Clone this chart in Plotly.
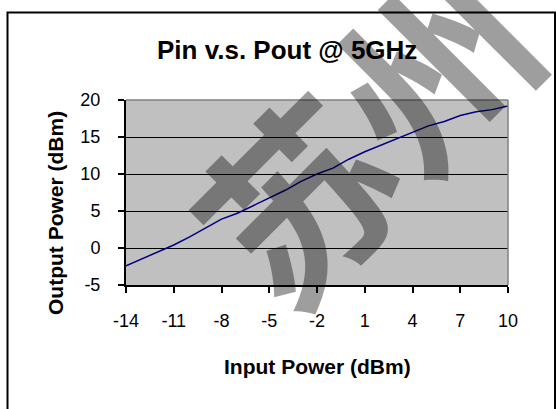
import plotly.graph_objects as go

# ---- data ----
pin_dbm = [-14, -13, -12, -11, -10, -9, -8, -7, -6, -5, -4, -3, -2, -1,
           0, 1, 2, 3, 4, 5, 6, 7, 8, 9, 10]
pout_dbm = [-2.4, -1.5, -0.5, 0.4, 1.5, 2.7, 3.9, 4.7, 5.7, 6.7, 7.8, 9.0, 10.0, 10.8,
            12.0, 13.0, 13.9, 14.7, 15.6, 16.5, 17.1, 17.9, 18.4, 18.7, 19.2]
x_ticks = [-14, -11, -8, -5, -2, 1, 4, 7, 10]
y_ticks = [-5, 0, 5, 10, 15, 20]

title_text = "Pin v.s. Pout @ 5GHz"
x_title = "Input Power (dBm)"
y_title = "Output Power (dBm)"
watermark = "苏州"

FONT = "Liberation Sans, Arial, sans-serif"

# layout geometry (pixels)
W, H = 556, 409
L, R, T, B = 126, 508, 100, 285
pw, ph = R - L, B - T


def px(xp):
    return (xp - L) / pw


def py(yp):
    return (B - yp) / ph


fig = go.Figure()
fig.add_trace(go.Scatter(
    x=pin_dbm, y=pout_dbm, mode="lines",
    line=dict(color="#000080", width=1.5),
    hoverinfo="skip", showlegend=False,
))

fig.update_layout(
    width=W, height=H,
    margin=dict(l=L, r=W - R, t=T, b=H - B, pad=0),
    paper_bgcolor="white",
    plot_bgcolor="#C0C0C0",
    font=dict(family=FONT, color="black"),
    showlegend=False,
)

fig.update_xaxes(
    range=[-14, 10], tickvals=x_ticks, ticktext=[str(v) for v in x_ticks],
    ticks="outside", ticklen=6, tickwidth=1.5, tickcolor="black",
    showline=True, linecolor="black", linewidth=2,
    showgrid=False, zeroline=False,
    tickfont=dict(size=18, family=FONT, color="black"),
    ticklabelstandoff=12,
)
fig.update_yaxes(
    range=[-5, 20], tickvals=y_ticks, ticktext=[str(v) for v in y_ticks],
    ticks="outside", ticklen=6, tickwidth=1.5, tickcolor="black",
    showline=True, linecolor="black", linewidth=2,
    showgrid=True, gridcolor="black", gridwidth=1.3, zeroline=False,
    tickfont=dict(size=18, family=FONT, color="black"),
    ticklabelstandoff=14,
)

shapes = [
    # plot area top/right border (gray)
    dict(type="line", xref="paper", yref="paper", x0=0, x1=1, y0=1, y1=1,
         line=dict(color="#808080", width=1.5), layer="above"),
    dict(type="line", xref="paper", yref="paper", x0=1, x1=1, y0=0, y1=1,
         line=dict(color="#808080", width=1.5), layer="above"),
    # chart area border
    dict(type="rect", xref="paper", yref="paper",
         x0=px(7.5), x1=px(555), y0=py(430), y1=py(12.5),
         line=dict(color="black", width=2), fillcolor="rgba(0,0,0,0)", layer="above"),
]
fig.update_layout(shapes=shapes)

annotations = [
    dict(text="<b>%s</b>" % title_text, xref="paper", yref="paper",
         x=px(287), y=py(50), xanchor="center", yanchor="middle", showarrow=False,
         font=dict(size=26, family=FONT, color="black")),
    dict(text="<b>%s</b>" % x_title, xref="paper", yref="paper",
         x=px(317), y=py(366), xanchor="center", yanchor="middle", showarrow=False,
         font=dict(size=21, family=FONT, color="black")),
    dict(text="<b>%s</b>" % y_title, xref="paper", yref="paper",
         x=px(55), y=py(213), xanchor="center", yanchor="middle", showarrow=False,
         textangle=-90,
         font=dict(size=21, family=FONT, color="black")),
    dict(text="<b>%s</b>" % watermark, xref="paper", yref="paper",
         x=px(360), y=py(128), xanchor="center", yanchor="middle", showarrow=False,
         textangle=-45,
         font=dict(size=190, family="Noto Sans CJK SC", color="rgba(0,0,0,0.38)")),
]
fig.update_layout(annotations=annotations)

fig.write_html("out.html", config={"displayModeBar": False},
               post_script="document.body.style.margin='0px';")
